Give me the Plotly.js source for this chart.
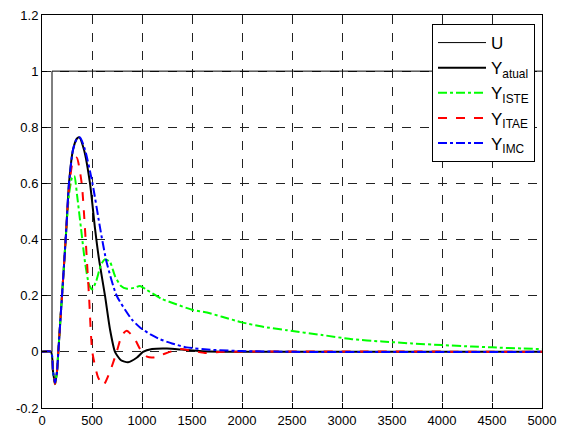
<!DOCTYPE html>
<html>
<head>
<meta charset="utf-8">
<script src="https://cdn.plot.ly/plotly-3.0.1.min.js"></script>
<style>html,body{margin:0;padding:0;background:#fff;}#chart{width:566px;height:430px;}</style>
</head>
<body>
<div id="chart"></div>
<script>
// Reference input (step)
const tU = [0, 100, 100, 5000];
const yU = [0, 0, 1, 1];

// Y atual
const tAtual = [0, 90, 110, 130, 150, 163, 200, 240, 270, 310, 350, 373, 420, 480, 530, 570, 630, 680, 730, 790, 860, 950, 1010, 1100, 1250, 1400, 1600, 2000, 5000];
const yAtual = [0, 0, -0.07, -0.112, -0.07, 0, 0.2, 0.42, 0.6, 0.72, 0.76, 0.764, 0.72, 0.6, 0.44, 0.33, 0.2, 0.08, 0, -0.03, -0.037, -0.02, 0, 0.01, 0.012, 0.008, 0.002, 0, 0];

// Y ISTE
const tIste = [0, 90, 110, 130, 150, 163, 200, 240, 270, 300, 323, 350, 390, 430, 470, 500, 540, 590, 630, 680, 730, 790, 850, 920, 980, 1050, 1200, 1300, 1500, 1650, 1800, 2000, 2200, 2450, 2800, 3100, 3400, 3700, 4000, 4300, 4500, 4800, 5000];
const yIste = [0, 0, -0.07, -0.115, -0.07, 0, 0.2, 0.42, 0.56, 0.62, 0.627, 0.56, 0.44, 0.32, 0.24, 0.222, 0.25, 0.31, 0.33, 0.32, 0.27, 0.235, 0.225, 0.228, 0.235, 0.22, 0.188, 0.175, 0.15, 0.14, 0.125, 0.105, 0.09, 0.077, 0.06, 0.045, 0.037, 0.03, 0.024, 0.019, 0.016, 0.012, 0.01];

// Y ITAE
const tItae = [0, 90, 110, 130, 150, 163, 200, 240, 270, 310, 347, 397, 430, 470, 503, 560, 613, 680, 747, 800, 847, 920, 997, 1050, 1110, 1200, 1280, 1380, 1500, 1630, 1800, 5000];
const yItae = [0, 0, -0.07, -0.115, -0.07, 0, 0.2, 0.42, 0.58, 0.68, 0.692, 0.6, 0.437, 0.2, 0, -0.09, -0.119, -0.07, 0, 0.06, 0.075, 0.05, 0, -0.017, -0.02, -0.01, 0, 0.01, 0.004, -0.004, 0, 0];

// Y IMC
const tImc = [0, 90, 110, 130, 150, 163, 200, 240, 270, 310, 350, 380, 430, 505, 583, 647, 747, 897, 980, 1080, 1180, 1300, 1447, 1713, 2000, 2500, 5000];
const yImc = [0, 0, -0.07, -0.11, -0.07, 0, 0.2, 0.42, 0.6, 0.72, 0.76, 0.764, 0.72, 0.6, 0.437, 0.318, 0.2, 0.116, 0.087, 0.063, 0.045, 0.03, 0.016, 0.007, 0.003, 0, 0];

const xTicks = [0, 500, 1000, 1500, 2000, 2500, 3000, 3500, 4000, 4500, 5000];
const yTicks = [-0.2, 0, 0.2, 0.4, 0.6, 0.8, 1, 1.2];
const yTickText = ['-0.2', '0', '0.2', '0.4', '0.6', '0.8', '1', '1.2'];

const traces = [
  {x: tU, y: yU, name: 'U', mode: 'lines', line: {color: '#000', width: 1}},
  {x: tAtual, y: yAtual, name: 'Y<sub>atual</sub>', mode: 'lines', line: {color: '#000', width: 2, shape: 'spline', smoothing: 0.6}},
  {x: tIste, y: yIste, name: 'Y<sub>ISTE</sub>', mode: 'lines', line: {color: '#00ff00', width: 2, dash: 'dashdot', shape: 'spline', smoothing: 0.6}},
  {x: tItae, y: yItae, name: 'Y<sub>ITAE</sub>', mode: 'lines', line: {color: '#ff0000', width: 2, dash: 'dash', shape: 'spline', smoothing: 0.6}},
  {x: tImc, y: yImc, name: 'Y<sub>IMC</sub>', mode: 'lines', line: {color: '#0000ff', width: 2, dash: 'dashdot', shape: 'spline', smoothing: 0.6}}
];

const axisCommon = {
  showline: true, mirror: true, linecolor: '#000', linewidth: 1,
  ticks: 'inside', ticklen: 5, tickcolor: '#000',
  showgrid: true, gridcolor: '#222', griddash: 'dash', gridwidth: 1,
  zeroline: false,
  tickfont: {family: 'Liberation Sans, Arial, sans-serif', size: 13, color: '#000'}
};

const layout = {
  width: 566, height: 430,
  margin: {l: 42, r: 24, t: 15, b: 22},
  paper_bgcolor: '#fff', plot_bgcolor: '#fff',
  showlegend: true,
  xaxis: Object.assign({}, axisCommon, {range: [0, 5000], tickmode: 'array', tickvals: xTicks, ticktext: xTicks.map(String)}),
  yaxis: Object.assign({}, axisCommon, {range: [-0.2, 1.2], tickmode: 'array', tickvals: yTicks, ticktext: yTickText}),
  legend: {
    x: 0.78, y: 0.977, xanchor: 'left', yanchor: 'top',
    bgcolor: '#fff', bordercolor: '#000', borderwidth: 1,
    font: {family: 'Liberation Sans, Arial, sans-serif', size: 17, color: '#000'},
    itemwidth: 48
  }
};

Plotly.newPlot('chart', traces, layout, {displayModeBar: false, staticPlot: true});
</script>
</body>
</html>
